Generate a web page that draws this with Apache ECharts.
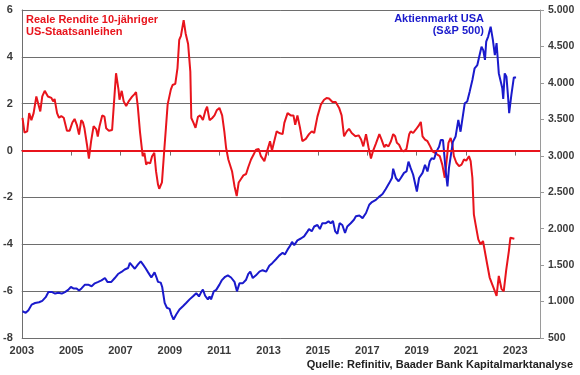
<!DOCTYPE html>
<html>
<head>
<meta charset="utf-8">
<script src="https://cdn.jsdelivr.net/npm/echarts@6/dist/echarts.min.js"></script>
<style>
  html, body { margin: 0; padding: 0; background: #fff; }
  #chart { width: 580px; height: 375px; }
</style>
</head>
<body>
<div id="chart"></div>
<script>
// --- Farben ---
const RED = '#e8141c';
const BLUE = '#1a1acc';
const GRID = '#6e6e6e';
const TEXT = '#3a3a3a';

// --- Daten (Jahr als Dezimalzahl) ---
const yieldDates = [
  2003.03, 2003.11, 2003.22, 2003.30, 2003.39, 2003.48, 2003.59, 2003.66, 2003.75, 2003.83, 2003.93,
  2004.06, 2004.20, 2004.27, 2004.33, 2004.43, 2004.51, 2004.60, 2004.70, 2004.78, 2004.83, 2004.94,
  2005.05, 2005.14, 2005.23, 2005.32, 2005.41, 2005.48, 2005.54, 2005.64, 2005.72, 2005.81, 2005.91,
  2006.02, 2006.08, 2006.15, 2006.26, 2006.35, 2006.42, 2006.53, 2006.66, 2006.76, 2006.82, 2006.92, 2006.96,
  2007.05, 2007.13, 2007.23, 2007.33, 2007.47, 2007.56, 2007.63, 2007.70, 2007.79, 2007.90, 2007.97,
  2008.04, 2008.10, 2008.20, 2008.28, 2008.37, 2008.44, 2008.52, 2008.57, 2008.68, 2008.78, 2008.84, 2008.91,
  2009.04, 2009.11, 2009.22, 2009.31, 2009.38, 2009.45, 2009.56, 2009.64, 2009.74, 2009.83, 2009.87, 2009.96,
  2010.04, 2010.14, 2010.23, 2010.34, 2010.44, 2010.51, 2010.61, 2010.71, 2010.81, 2010.90,
  2011.01, 2011.12, 2011.21, 2011.28, 2011.37, 2011.44, 2011.52, 2011.62, 2011.71, 2011.79, 2011.89, 2011.98,
  2012.09, 2012.18, 2012.29, 2012.40, 2012.49, 2012.60, 2012.69, 2012.83, 2012.96,
  2013.06, 2013.14, 2013.23, 2013.33, 2013.43, 2013.57, 2013.64, 2013.77, 2013.90,
  2014.01, 2014.08, 2014.17, 2014.27, 2014.37, 2014.51, 2014.64, 2014.75, 2014.85, 2014.98,
  2015.12, 2015.25, 2015.35, 2015.45, 2015.59, 2015.72, 2015.86, 2015.96,
  2016.06, 2016.17, 2016.26, 2016.37, 2016.52, 2016.65, 2016.75, 2016.84, 2016.95,
  2017.05, 2017.15, 2017.24, 2017.35, 2017.49, 2017.58, 2017.69, 2017.75, 2017.86, 2017.96,
  2018.05, 2018.13, 2018.20, 2018.29, 2018.40, 2018.49, 2018.59, 2018.70, 2018.76, 2018.86, 2018.97,
  2019.07, 2019.17, 2019.24, 2019.34, 2019.44, 2019.55, 2019.64, 2019.75, 2019.84, 2019.94,
  2020.04, 2020.14, 2020.20, 2020.29, 2020.38, 2020.45, 2020.51, 2020.61, 2020.72, 2020.82, 2020.92,
  2021.01, 2021.12, 2021.19, 2021.26, 2021.32, 2021.39, 2021.50, 2021.59, 2021.69, 2021.77, 2021.86, 2021.96,
  2022.06, 2022.17, 2022.24, 2022.33, 2022.44, 2022.53, 2022.63, 2022.74, 2022.80, 2022.87, 2022.96
];
const yieldValues = [
  1.40, 0.77, 0.82, 1.60, 1.30, 1.60, 2.31, 2.25, 1.67, 2.31, 2.55,
  2.31, 2.25, 2.10, 2.20, 1.60, 1.40, 1.47, 1.40, 1.45, 0.85, 0.85,
  1.20, 1.35, 1.10, 0.68, 1.30, 1.20, 0.95, 0.26, -0.34, 0.40, 1.04,
  0.90, 0.60, 1.04, 1.50, 1.45, 0.95, 0.85, 0.88, 2.40, 3.30, 2.60, 2.17,
  2.55, 2.10, 1.90, 2.10, 2.30, 2.40, 2.50, 1.90, 0.80, -0.24, -0.10,
  -0.60, -0.50, -0.55, -0.24, -0.10, -0.88, -1.45, -1.63, -1.36, 0.11, 0.95, 1.96,
  2.60, 2.80, 2.85, 3.52, 4.72, 4.90, 5.57, 5.00, 4.55, 3.37, 1.39, 1.18,
  0.97, 1.44, 1.50, 1.30, 1.70, 1.87, 1.30, 1.38, 1.50, 1.72,
  1.82, 1.50, 0.80, 0.11, -0.38, -0.45, -0.88, -1.52, -1.94, -1.36, -1.20, -1.06,
  -1.00, -0.70, -0.38, -0.16, 0.04, 0.07, -0.24, -0.45, 0.04,
  0.40, 0.00, 0.40, 0.82, 0.75, 0.70, 1.18, 1.60, 1.50,
  1.50, 1.10, 1.50, 1.00, 0.40, 0.50, 0.70, 0.82, 0.75, 1.45,
  1.96, 2.17, 2.24, 2.22, 2.07, 2.07, 1.82, 1.50,
  0.61, 0.82, 0.93, 0.75, 0.61, 0.65, 0.47, 0.18, 0.70,
  0.14, -0.34, 0.00, 0.30, 0.70, 0.47, 0.14, 0.25, 0.18, 0.40,
  0.70, 0.61, 0.33, 0.25, 0.00, -0.03, 0.07, 0.70, 0.82, 0.75, 0.90,
  1.04, 1.22, 0.61, 0.47, 0.40, 0.18, -0.03, -0.10, -0.17, -0.24,
  -0.60, -1.16, -0.60, 0.33, 0.54, 0.25, -0.24, -0.52, -0.66, -0.60, -0.38,
  -0.43, -0.24, -0.45, -1.16, -2.72, -3.15, -3.79, -4.00, -3.86, -3.83, -4.85, -5.42,
  -5.70, -6.00, -6.20, -5.35, -5.90, -6.01, -5.10, -4.28, -3.72, -3.79, -3.76
];

const spxDates = [
  2003.03, 2003.16, 2003.27, 2003.40, 2003.54, 2003.70, 2003.83, 2003.97,
  2004.08, 2004.21, 2004.35, 2004.48, 2004.62, 2004.75, 2004.88, 2004.99,
  2005.09, 2005.22, 2005.32, 2005.42, 2005.56, 2005.69, 2005.83, 2005.96,
  2006.10, 2006.23, 2006.37, 2006.47, 2006.63, 2006.77, 2006.90,
  2007.04, 2007.17, 2007.31, 2007.38, 2007.48, 2007.58, 2007.71, 2007.82, 2007.91,
  2008.01, 2008.12, 2008.25, 2008.32, 2008.38, 2008.45, 2008.52, 2008.63, 2008.69, 2008.79, 2008.88, 2008.99,
  2009.06, 2009.15, 2009.26, 2009.39, 2009.53, 2009.66, 2009.80, 2009.93,
  2010.07, 2010.18, 2010.27, 2010.34, 2010.43, 2010.54, 2010.61, 2010.67, 2010.78, 2010.88,
  2011.01, 2011.10, 2011.24, 2011.35, 2011.48, 2011.62, 2011.72, 2011.82, 2011.95,
  2012.09, 2012.18, 2012.26, 2012.36, 2012.49, 2012.63, 2012.76, 2012.90,
  2013.03, 2013.16, 2013.30, 2013.43, 2013.57, 2013.66, 2013.77, 2013.90, 2013.95,
  2014.04, 2014.17, 2014.31, 2014.44, 2014.58, 2014.64, 2014.75, 2014.85, 2014.98,
  2015.08, 2015.18, 2015.32, 2015.43, 2015.52, 2015.61, 2015.70, 2015.79, 2015.88, 2015.99,
  2016.10, 2016.19, 2016.33, 2016.46, 2016.54, 2016.68, 2016.81, 2016.95,
  2017.08, 2017.19, 2017.35, 2017.49, 2017.62, 2017.75, 2017.89,
  2018.00, 2018.05, 2018.16, 2018.27, 2018.36, 2018.49, 2018.59, 2018.67, 2018.76, 2018.86, 2018.94,
  2019.01, 2019.10, 2019.24, 2019.34, 2019.44, 2019.53, 2019.61, 2019.71, 2019.80, 2019.91, 2019.98,
  2020.07, 2020.18, 2020.25, 2020.31, 2020.41, 2020.47, 2020.58, 2020.69, 2020.78, 2020.85, 2020.95,
  2021.05, 2021.15, 2021.26, 2021.35, 2021.46, 2021.52, 2021.63, 2021.70, 2021.77, 2021.82, 2021.90,
  2022.00, 2022.09, 2022.17, 2022.24, 2022.33, 2022.40, 2022.47, 2022.51, 2022.57, 2022.64, 2022.71, 2022.75, 2022.84, 2022.94,
  2023.03
];
const spxValues = [
  867, 845, 880, 958, 980, 990, 1010, 1060,
  1132, 1132, 1110, 1120, 1110, 1130, 1160, 1200,
  1180, 1180, 1150, 1180, 1232, 1232, 1210, 1250,
  1270, 1290, 1323, 1270, 1270, 1323, 1378,
  1406, 1440, 1460, 1530, 1490, 1450, 1510, 1552, 1510,
  1460, 1400, 1330, 1340, 1400, 1340, 1270, 1260, 1200, 982, 915, 900,
  822, 753, 822, 890, 935, 980, 1030, 1070,
  1115, 1070, 1130, 1165, 1080, 1030, 1070, 1030, 1140, 1160,
  1232, 1290, 1340, 1360, 1330, 1270, 1140, 1250, 1250,
  1300, 1380, 1410, 1323, 1360, 1410, 1430, 1410,
  1490, 1530, 1580, 1630, 1670, 1645, 1712, 1780, 1820,
  1775, 1840, 1865, 1895, 1963, 1995, 1963, 2030, 2050,
  1995, 2075, 2075, 2100, 2075, 2105, 1963, 1930, 2075, 2050,
  1940, 2030, 2075, 2123, 2170, 2180, 2145, 2215,
  2328, 2365, 2395, 2440, 2475, 2545, 2625,
  2695, 2822, 2695, 2650, 2695, 2765, 2785, 2920, 2830, 2740, 2720,
  2510, 2695, 2765, 2875, 2785, 2920, 2965, 2955, 3057, 3125, 3215,
  3215, 2785, 2580, 2830, 3057, 3190, 3265, 3493, 3330, 3493, 3720,
  3745, 3880, 4040, 4200, 4245, 4335, 4497, 4450, 4315, 4565, 4635,
  4771, 4590, 4380, 4545, 4133, 4110, 3930, 3780, 4130, 4085, 3790, 3585, 3835, 4075,
  4075
];

const tickYears = [2003, 2005, 2007, 2009, 2011, 2013, 2015, 2017, 2019, 2021, 2023];

const chart = echarts.init(document.getElementById('chart'), null, { renderer: 'canvas' });

const thousands = v => String(v).replace(/\B(?=(\d{3})+(?!\d))/g, '.');

const option = {
  animation: false,
  backgroundColor: '#fff',
  grid: { left: 20, right: 40, top: 10, bottom: 37 },
  xAxis: {
    type: 'value',
    min: 2003,
    max: 2024,
    axisLine: { lineStyle: { color: GRID, width: 1 } },
    axisTick: { show: true, length: 5, customValues: tickYears, lineStyle: { color: GRID } },
    axisLabel: {
      customValues: tickYears,
      formatter: v => String(v),
      color: TEXT,
      fontFamily: 'Liberation Sans, Arial, sans-serif',
      fontWeight: 'bold',
      fontSize: 11,
      margin: 7
    },
    splitLine: { show: false }
  },
  yAxis: [
    {
      type: 'value',
      min: -8,
      max: 6,
      interval: 2,
      axisLine: { show: true, lineStyle: { color: GRID } },
      axisTick: { show: false },
      axisLabel: {
        color: TEXT,
        fontFamily: 'Liberation Sans, Arial, sans-serif',
        fontWeight: 'bold',
        fontSize: 11,
        margin: 9
      },
      splitLine: { show: true, lineStyle: { color: GRID, width: 1 } }
    },
    {
      type: 'value',
      min: 500,
      max: 5000,
      interval: 500,
      position: 'right',
      axisLine: { show: true, lineStyle: { color: '#9a9a9a' } },
      axisTick: { show: true, length: 4, lineStyle: { color: '#9a9a9a' } },
      axisLabel: {
        color: TEXT,
        fontFamily: 'Liberation Sans, Arial, sans-serif',
        fontWeight: 'bold',
        fontSize: 10.5,
        margin: 8,
        formatter: thousands
      },
      splitLine: { show: false }
    }
  ],
  graphic: [
    {
      type: 'text',
      left: 26,
      top: 14,
      style: {
        text: 'Reale Rendite 10-jähriger\nUS-Staatsanleihen',
        fill: RED,
        font: 'bold 11px "Liberation Sans", Arial, sans-serif',
        lineHeight: 12
      }
    },
    {
      type: 'text',
      right: 96,
      top: 13,
      style: {
        text: 'Aktienmarkt USA\n(S&P 500)',
        fill: BLUE,
        font: 'bold 11px "Liberation Sans", Arial, sans-serif',
        lineHeight: 12,
        textAlign: 'right'
      }
    },
    {
      type: 'text',
      right: 7,
      top: 359,
      style: {
        text: 'Quelle: Refinitiv, Baader Bank Kapitalmarktanalyse',
        fill: '#222',
        font: 'bold 11px "Liberation Sans", Arial, sans-serif'
      }
    }
  ],
  series: [
    {
      name: 'Reale Rendite 10-jähriger US-Staatsanleihen',
      type: 'line',
      yAxisIndex: 0,
      data: yieldDates.map((d, i) => [d, yieldValues[i]]),
      showSymbol: false,
      lineStyle: { color: RED, width: 2 },
      itemStyle: { color: RED },
      markLine: {
        silent: true,
        symbol: 'none',
        label: { show: false },
        lineStyle: { color: RED, width: 2, type: 'solid' },
        data: [{ yAxis: 0 }]
      }
    },
    {
      name: 'Aktienmarkt USA (S&P 500)',
      type: 'line',
      yAxisIndex: 1,
      data: spxDates.map((d, i) => [d, spxValues[i]]),
      showSymbol: false,
      lineStyle: { color: BLUE, width: 2 },
      itemStyle: { color: BLUE }
    }
  ]
};

chart.setOption(option);
</script>
</body>
</html>
